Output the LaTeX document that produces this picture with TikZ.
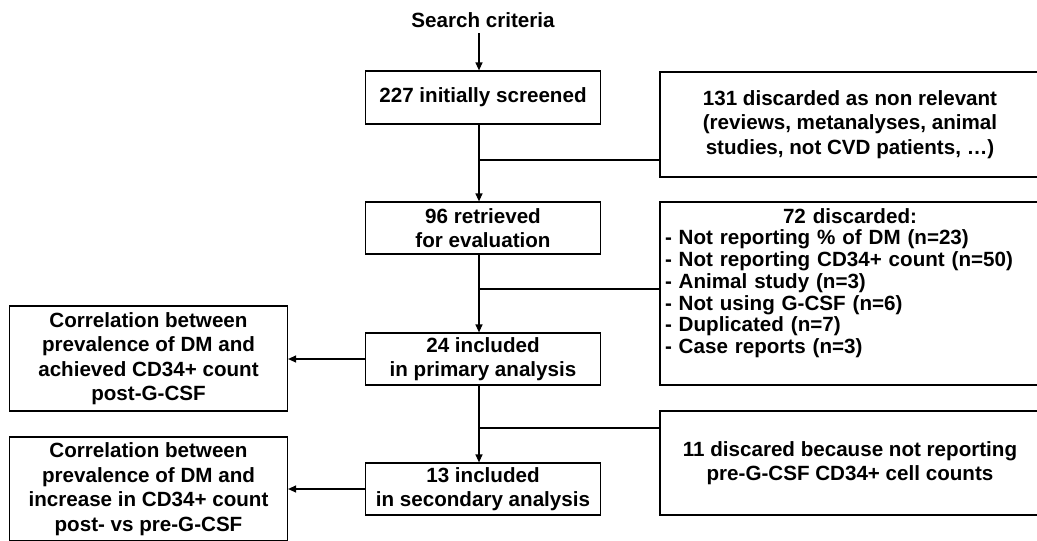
\documentclass[tikz,border=0pt]{standalone}
\usepackage{fontspec}
\setmainfont{Liberation Sans}
\usetikzlibrary{arrows.meta}
\begin{document}
\begin{tikzpicture}[x=1pt,y=-1pt,
  txt/.style={font=\bfseries\fontsize{20.6}{24.5}\selectfont},
  box/.style={txt, draw, line width=1.2pt, rectangle, inner sep=0pt, align=center},
  arr/.style={line width=1.2pt, -{Triangle[length=8pt,width=7pt]}},
  ln/.style={line width=1.2pt}]
\useasboundingbox (0,0) rectangle (1037,541);
\clip (0,0) rectangle (1037,541);
\coordinate (t) at (479,0);
\node[txt, anchor=base, inner sep=0pt, outer sep=0pt, text depth=6pt] (search) at (483,27) {Search criteria};
\node[box, minimum width=235pt, minimum height=53pt] (b227) at (483,97.5) {227 initially screened};
\node[box, minimum width=380pt, minimum height=105pt] (r1) at (850,124.5) {131 discarded as non relevant\\(reviews, metanalyses, animal\\studies, not CVD patients, …)};
\node[box, minimum width=235pt, minimum height=52pt] (b96) at (483,228) {96 retrieved\\for evaluation};
\node[box, minimum width=380pt, minimum height=183pt] (r2) at (850,293.5) {};
\node[font=\bfseries\fontsize{20.6}{21.7}\selectfont, text width=370pt, align=left, inner sep=0pt] (r2t) at (850,283) {\makebox[370pt][c]{72 discarded:}\\
- Not reporting \% of DM (n=23)\\
- Not reporting CD34+ count (n=50)\\
- Animal study (n=3)\\
- Not using G-CSF (n=6)\\
- Duplicated (n=7)\\
- Case reports (n=3)};
\node[box, minimum width=235pt, minimum height=52pt] (b24) at (483,359) {24 included\\in primary analysis};
\node[box, minimum width=278pt, minimum height=105pt] (l1) at (148.5,358.5) {Correlation between\\prevalence of DM and\\achieved CD34+ count\\post-G-CSF};
\node[box, minimum width=380pt, minimum height=104pt] (r3) at (850,463) {11 discared because not reporting\\pre-G-CSF CD34+ cell counts};
\node[box, minimum width=235pt, minimum height=52pt] (b13) at (483,489) {13 included\\in secondary analysis};
\node[box, minimum width=278pt, minimum height=104pt] (l2) at (148.5,489) {Correlation between\\prevalence of DM and\\increase in CD34+ count\\post- vs pre-G-CSF};
\coordinate (j1) at (479,160);
\coordinate (j2) at (479,289);
\coordinate (j3) at (479,428);
\draw[arr] (search.south -| t) -- (b227.north -| t);
\draw[arr] (b227.south -| t) -- (b96.north -| t);
\draw[ln] (j1) -- (j1 -| r1.west);
\draw[arr] (b96.south -| t) -- (b24.north -| t);
\draw[ln] (j2) -- (j2 -| r2.west);
\draw[arr] (b24.south -| t) -- (b13.north -| t);
\draw[ln] (j3) -- (j3 -| r3.west);
\draw[arr] (b24.west) -- (b24.west -| l1.east);
\draw[arr] (b13.west) -- (b13.west -| l2.east);
\end{tikzpicture}
\end{document}
